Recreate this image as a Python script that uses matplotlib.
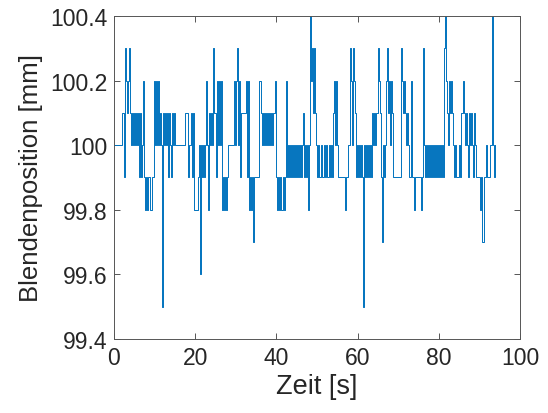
import numpy as np
import matplotlib
matplotlib.use("Agg")
import matplotlib.pyplot as plt

plt.rcParams['font.family'] = ['Liberation Sans', 'DejaVu Sans']

# Aperture position, sampled every 0.25 s.
# One digit per sample: 0 -> 99.5 mm, 1 -> 99.6 mm, ... 9 -> 100.4 mm
dt = 0.25
base_level = 99.5
step_mm = 0.1
samples_00_10 = "5555555566487678656565656464574343433447"
samples_10_20 = "5757565065656465465655555555556664556463"
samples_20_30 = "3334515454575365658647575734343455555575"
samples_30_40 = "7857466666747343424444477656565656565667"
samples_40_50 = "4343434347454545454545454564545359786865"
samples_50_60 = "4544544545445454675754444444344587587645"
samples_60_70 = "4545405454545465656687642545786757644444"
samples_70_80 = "4448767656544744344444348545454545454545"
samples_80_90 = "4545489765767654544454667656546565465444"
samples_90_94 = "4342445444559545"

codes = (samples_00_10 + samples_10_20 + samples_20_30 + samples_30_40 +
         samples_40_50 + samples_50_60 + samples_60_70 + samples_70_80 +
         samples_80_90 + samples_90_94)
position = np.array([base_level + step_mm * int(c) for c in codes])
zeit = np.arange(len(position)) * dt

fig = plt.figure(figsize=(5.48, 4.14), dpi=100)
ax = fig.add_axes([0.208, 0.179, 0.741, 0.780])
ax.plot(zeit, position, color='#0072BD', linewidth=0.7, drawstyle='steps-post')

ax.set_xlim(0, 100)
ax.set_ylim(99.4, 100.4)
ax.set_xticks([0, 20, 40, 60, 80, 100])
ax.set_yticks([99.4, 99.6, 99.8, 100, 100.2, 100.4])
ax.set_yticklabels(['99.4', '99.6', '99.8', '100', '100.2', '100.4'])

for s in ax.spines.values():
    s.set_color('#555555')
    s.set_linewidth(0.7)
ax.tick_params(direction='in', length=4, width=0.7, color='#555555',
               labelsize=16.5, labelcolor='#262626', pad=5,
               top=True, right=True)
ax.set_xlabel('Zeit [s]', fontsize=19.5, color='#262626', labelpad=3)
ax.set_ylabel('Blendenposition [mm]', fontsize=18.5, color='#262626', labelpad=5)

fig.savefig('out.png', dpi=100)
